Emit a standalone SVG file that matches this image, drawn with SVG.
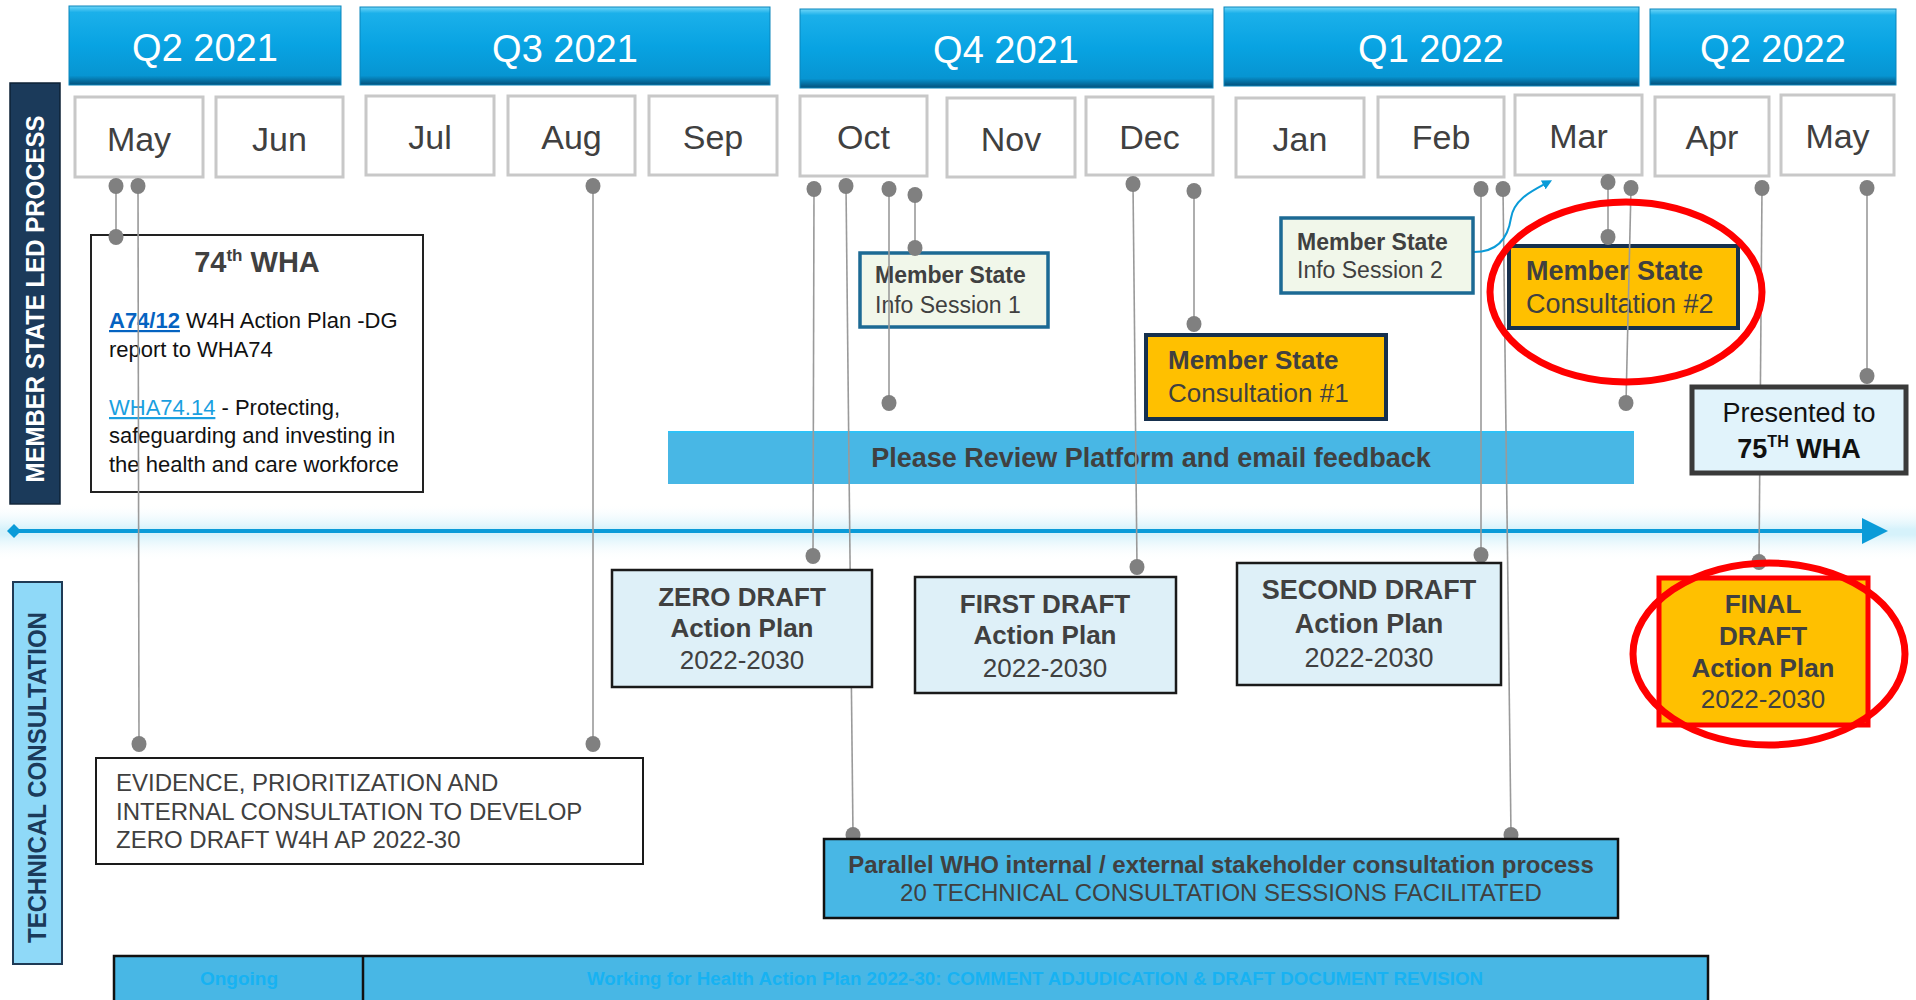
<svg xmlns="http://www.w3.org/2000/svg" width="1916" height="1000" viewBox="0 0 1916 1000">
<defs>
<linearGradient id="qg" x1="0" y1="0" x2="0" y2="1">
<stop offset="0" stop-color="#6fd6f8"/>
<stop offset="0.08" stop-color="#1bb0ea"/>
<stop offset="0.5" stop-color="#08a3e2"/>
<stop offset="0.88" stop-color="#0795d2"/>
<stop offset="1" stop-color="#04507a"/>
</linearGradient>
<linearGradient id="glow" x1="0" y1="0" x2="0" y2="1">
<stop offset="0" stop-color="#ffffff" stop-opacity="0"/>
<stop offset="0.45" stop-color="#d6f2fb"/>
<stop offset="0.55" stop-color="#d6f2fb"/>
<stop offset="1" stop-color="#ffffff" stop-opacity="0"/>
</linearGradient>
<marker id="arr" viewBox="0 0 10 10" refX="2" refY="5" markerWidth="5" markerHeight="5" orient="auto">
<path d="M0,0 L10,5 L0,10 z" fill="#0a9bd8"/>
</marker>
<style>
text{font-family:"Liberation Sans",Arial,sans-serif;}
.q{fill:url(#qg);stroke:#0a85bb;stroke-width:1;}
.qt{fill:#ffffff;font-size:38px;text-anchor:middle;}
.mb{fill:#ffffff;stroke:#c8c8c8;stroke-width:3;}
.mt{fill:#404040;font-size:34px;text-anchor:middle;}
.ln{stroke:#9a9a9a;stroke-width:1.6;fill:none;}
.dot{fill:#808080;}
.dk{fill:#404040;}
.b{font-weight:bold;}
.c{text-anchor:middle;}
.draft{fill:#def0f8;stroke:#1a1a1a;stroke-width:2.5;}
.info{fill:#f1f7ea;stroke:#1c6a94;stroke-width:3.5;}
.cons{fill:#ffc000;stroke:#16304e;stroke-width:4;}
.blue{fill:#48b7e5;stroke:#111111;stroke-width:2.5;}
.red{fill:none;stroke:#ff0000;stroke-width:7;}
</style>
</defs>
<rect width="1916" height="1000" fill="#ffffff"/>

<!-- quarters -->
<g id="quarters">
<g id="q2-2021"><rect class="q" x="69" y="6" width="272" height="79"/><text class="qt" x="205" y="61" font-size="36">Q2 2021</text></g>
<g id="q3-2021"><rect class="q" x="360" y="7" width="410" height="78"/><text class="qt" x="565" y="62">Q3 2021</text></g>
<g id="q4-2021"><rect class="q" x="800" y="9" width="413" height="79"/><text class="qt" x="1006" y="63">Q4 2021</text></g>
<g id="q1-2022"><rect class="q" x="1224" y="7" width="415" height="79"/><text class="qt" x="1431" y="62">Q1 2022</text></g>
<g id="q2-2022"><rect class="q" x="1650" y="9" width="246" height="76"/><text class="qt" x="1773" y="62">Q2 2022</text></g>
</g>

<!-- months -->
<g id="months">
<g id="m-may21"><rect class="mb" x="75" y="97" width="128" height="80"/><text class="mt" x="139" y="151">May</text></g>
<g id="m-jun21"><rect class="mb" x="216" y="97" width="127" height="80"/><text class="mt" x="279.5" y="151">Jun</text></g>
<g id="m-jul21"><rect class="mb" x="366" y="96" width="128" height="79"/><text class="mt" x="430" y="149">Jul</text></g>
<g id="m-aug21"><rect class="mb" x="508" y="96" width="127" height="79"/><text class="mt" x="571.5" y="149">Aug</text></g>
<g id="m-sep21"><rect class="mb" x="649" y="96" width="128" height="79"/><text class="mt" x="713" y="149">Sep</text></g>
<g id="m-oct21"><rect class="mb" x="800" y="96" width="127" height="80"/><text class="mt" x="863.5" y="149">Oct</text></g>
<g id="m-nov21"><rect class="mb" x="947" y="98" width="128" height="79"/><text class="mt" x="1011" y="151">Nov</text></g>
<g id="m-dec21"><rect class="mb" x="1086" y="97" width="127" height="78"/><text class="mt" x="1149.5" y="149">Dec</text></g>
<g id="m-jan22"><rect class="mb" x="1236" y="98" width="128" height="79"/><text class="mt" x="1300" y="151">Jan</text></g>
<g id="m-feb22"><rect class="mb" x="1378" y="97" width="126" height="80"/><text class="mt" x="1441" y="149">Feb</text></g>
<g id="m-mar22"><rect class="mb" x="1515" y="95" width="127" height="80"/><text class="mt" x="1578.5" y="148">Mar</text></g>
<g id="m-apr22"><rect class="mb" x="1655" y="97" width="114" height="79"/><text class="mt" x="1712" y="149">Apr</text></g>
<g id="m-may22"><rect class="mb" x="1781" y="95" width="113" height="80"/><text class="mt" x="1837.5" y="148">May</text></g>
</g>

<!-- lane labels -->
<g id="lane-member">
<rect x="10" y="83" width="50" height="421" fill="#1b3a5a" stroke="#0e2236" stroke-width="1.5"/>
<text x="35" y="308" transform="rotate(-90 35 299)" class="b c" fill="#ffffff" font-size="26" textLength="367" lengthAdjust="spacingAndGlyphs">MEMBER STATE LED PROCESS</text>
</g>
<g id="lane-technical">
<rect x="13" y="582" width="49" height="382" fill="#8fd9f8" stroke="#1f3a55" stroke-width="2"/>
<text x="37" y="786" transform="rotate(-90 37 777.5)" class="b c" fill="#1b3a5a" font-size="26" textLength="331" lengthAdjust="spacingAndGlyphs">TECHNICAL CONSULTATION</text>
</g>

<!-- timeline -->
<g id="timeline">
<rect x="0" y="503" width="1916" height="58" fill="url(#glow)"/>
<line x1="14" y1="531" x2="1864" y2="531" stroke="#0a9bd8" stroke-width="4"/>
<polygon points="1862,518 1888,531 1862,544" fill="#0a9bd8"/>
<polygon points="14,524 21,531 14,538 7,531" fill="#0a9bd8"/>
</g>

<!-- boxes below connectors -->
<g id="review-bar">
<rect x="668" y="431" width="966" height="53" fill="#48b7e5"/>
<line x1="668" y1="432" x2="1634" y2="432" stroke="#2ec2f7" stroke-width="2"/>
<text x="1151" y="467" class="b c dk" font-size="27">Please Review Platform and email feedback</text>
</g>

<g id="wha74">
<rect x="91" y="235" width="332" height="257" fill="#ffffff" stroke="#222222" stroke-width="2"/>
<text x="257" y="272" class="b c dk" font-size="29">74<tspan font-size="17" dy="-11">th</tspan><tspan dy="11"> WHA</tspan></text>
<text x="109" y="328" font-size="22" fill="#111111"><tspan font-weight="bold" fill="#0563c1" text-decoration="underline">A74/12</tspan> W4H Action Plan -DG</text>
<text x="109" y="357" font-size="22" fill="#111111">report to WHA74</text>
<text x="109" y="415" font-size="22" fill="#111111"><tspan fill="#1a9fe0" text-decoration="underline">WHA74.14</tspan> - Protecting,</text>
<text x="109" y="443" font-size="22" fill="#111111">safeguarding and investing in</text>
<text x="109" y="472" font-size="22" fill="#111111">the health and care workforce</text>
</g>

<g id="info-session-1">
<rect class="info" x="860" y="253" width="188" height="74"/>
<text x="875" y="283" class="b dk" font-size="23">Member State</text>
<text x="875" y="313" class="dk" font-size="23">Info Session 1</text>
</g>

<g id="consultation-2">
<rect class="cons" x="1509" y="246" width="229" height="82"/>
<text x="1526" y="280" class="b dk" font-size="27">Member State</text>
<text x="1526" y="313" class="dk" font-size="27">Consultation #2</text>
</g>

<!-- connectors -->
<g id="connectors">
<line class="ln" x1="116" y1="186" x2="116" y2="237"/>
<line class="ln" x1="138" y1="186" x2="139" y2="744"/>
<line class="ln" x1="593" y1="186" x2="593" y2="744"/>
<line class="ln" x1="814" y1="189" x2="813" y2="556"/>
<line class="ln" x1="846" y1="186" x2="853" y2="835"/>
<line class="ln" x1="889" y1="189" x2="889" y2="403"/>
<line class="ln" x1="915" y1="195" x2="915" y2="248"/>
<line class="ln" x1="1133" y1="184" x2="1137" y2="567"/>
<line class="ln" x1="1194" y1="191" x2="1194" y2="324"/>
<line class="ln" x1="1481" y1="189" x2="1481" y2="555"/>
<line class="ln" x1="1503" y1="189" x2="1511" y2="835"/>
<line class="ln" x1="1608" y1="182" x2="1608" y2="237"/>
<line class="ln" x1="1631" y1="188" x2="1626" y2="403"/>
<line class="ln" x1="1762" y1="188" x2="1759" y2="562"/>
<line class="ln" x1="1867" y1="188" x2="1867" y2="376"/>
<path d="M1474,252 C1498,252 1508,238 1511,218 C1514,200 1530,192 1545,184" fill="none" stroke="#0a9bd8" stroke-width="2" marker-end="url(#arr)"/>
<g class="dot">
<ellipse cx="116" cy="186" rx="7.5" ry="8"/><ellipse cx="116" cy="237" rx="7.5" ry="8"/>
<ellipse cx="138" cy="186" rx="7.5" ry="8"/><ellipse cx="139" cy="744" rx="7.5" ry="8"/>
<ellipse cx="593" cy="186" rx="7.5" ry="8"/><ellipse cx="593" cy="744" rx="7.5" ry="8"/>
<ellipse cx="814" cy="189" rx="7.5" ry="8"/><ellipse cx="813" cy="556" rx="7.5" ry="8"/>
<ellipse cx="846" cy="186" rx="7.5" ry="8"/><ellipse cx="853" cy="835" rx="7.5" ry="8"/>
<ellipse cx="889" cy="189" rx="7.5" ry="8"/><ellipse cx="889" cy="403" rx="7.5" ry="8"/>
<ellipse cx="915" cy="195" rx="7.5" ry="8"/><ellipse cx="915" cy="248" rx="7.5" ry="8"/>
<ellipse cx="1133" cy="184" rx="7.5" ry="8"/><ellipse cx="1137" cy="567" rx="7.5" ry="8"/>
<ellipse cx="1194" cy="191" rx="7.5" ry="8"/><ellipse cx="1194" cy="324" rx="7.5" ry="8"/>
<ellipse cx="1481" cy="189" rx="7.5" ry="8"/><ellipse cx="1481" cy="555" rx="7.5" ry="8"/>
<ellipse cx="1503" cy="189" rx="7.5" ry="8"/><ellipse cx="1511" cy="835" rx="7.5" ry="8"/>
<ellipse cx="1608" cy="182" rx="7.5" ry="8"/><ellipse cx="1608" cy="237" rx="7.5" ry="8"/>
<ellipse cx="1631" cy="188" rx="7.5" ry="8"/><ellipse cx="1626" cy="403" rx="7.5" ry="8"/>
<ellipse cx="1762" cy="188" rx="7.5" ry="8"/><ellipse cx="1759" cy="562" rx="7.5" ry="8"/>
<ellipse cx="1867" cy="188" rx="7.5" ry="8"/><ellipse cx="1867" cy="376" rx="7.5" ry="8"/>
</g>
</g>

<!-- boxes above connectors -->
<g id="info-session-2">
<rect class="info" x="1281" y="218" width="192" height="75"/>
<text x="1297" y="250" class="b dk" font-size="23">Member State</text>
<text x="1297" y="278" class="dk" font-size="23">Info Session 2</text>
</g>

<g id="consultation-1">
<rect class="cons" x="1146" y="335" width="240" height="84"/>
<text x="1168" y="369" class="b dk" font-size="26">Member State</text>
<text x="1168" y="402" class="dk" font-size="26">Consultation #1</text>
</g>

<g id="presented-75">
<rect x="1692" y="387" width="214" height="86" fill="#e1f3fb" stroke="#3a3a3a" stroke-width="5"/>
<text x="1799" y="422" class="c" fill="#111111" font-size="27">Presented to</text>
<text x="1799" y="458" class="c b" fill="#111111" font-size="27">75<tspan font-size="16" dy="-11">TH</tspan><tspan dy="11"> WHA</tspan></text>
</g>

<g id="zero-draft">
<rect class="draft" x="612" y="570" width="260" height="117"/>
<text x="742" y="606" class="b c dk" font-size="26">ZERO DRAFT</text>
<text x="742" y="637" class="b c dk" font-size="26">Action Plan</text>
<text x="742" y="669" class="c dk" font-size="26">2022-2030</text>
</g>

<g id="first-draft">
<rect class="draft" x="915" y="577" width="261" height="116"/>
<text x="1045" y="613" class="b c dk" font-size="26">FIRST DRAFT</text>
<text x="1045" y="644" class="b c dk" font-size="26">Action Plan</text>
<text x="1045" y="677" class="c dk" font-size="26">2022-2030</text>
</g>

<g id="second-draft">
<rect class="draft" x="1237" y="563" width="264" height="122"/>
<text x="1369" y="599" class="b c dk" font-size="27">SECOND DRAFT</text>
<text x="1369" y="633" class="b c dk" font-size="27">Action Plan</text>
<text x="1369" y="667" class="c dk" font-size="27">2022-2030</text>
</g>

<g id="final-draft">
<rect x="1659" y="578" width="209" height="147" fill="#ffc000" stroke="#ff0000" stroke-width="5"/>
<text x="1763" y="613" class="b c dk" font-size="26">FINAL</text>
<text x="1763" y="645" class="b c dk" font-size="26">DRAFT</text>
<text x="1763" y="677" class="b c dk" font-size="26">Action Plan</text>
<text x="1763" y="708" class="c dk" font-size="26">2022-2030</text>
</g>

<g id="highlights">
<ellipse class="red" cx="1626" cy="292" rx="136" ry="90"/>
<ellipse class="red" cx="1769" cy="654" rx="136" ry="91"/>
</g>

<g id="evidence">
<rect x="96" y="758" width="547" height="106" fill="#ffffff" stroke="#1a1a1a" stroke-width="2"/>
<text x="116" y="791" class="dk" font-size="24">EVIDENCE, PRIORITIZATION AND</text>
<text x="116" y="820" class="dk" font-size="24">INTERNAL CONSULTATION TO DEVELOP</text>
<text x="116" y="848" class="dk" font-size="24">ZERO DRAFT W4H AP 2022-30</text>
</g>

<g id="parallel">
<rect class="blue" x="824" y="839" width="794" height="79"/>
<text x="1221" y="873" class="b c dk" font-size="24">Parallel WHO internal / external stakeholder consultation process</text>
<text x="1221" y="901" class="c dk" font-size="24">20 TECHNICAL CONSULTATION SESSIONS FACILITATED</text>
</g>

<g id="bottom-bar">
<rect class="blue" x="114" y="956" width="1594" height="60"/>
<line x1="363" y1="956" x2="363" y2="1000" stroke="#111111" stroke-width="2.5"/>
<text x="239" y="985" class="b c" fill="#17b2f2" font-size="19">Ongoing</text>
<text x="1035" y="985" class="b c" fill="#17b2f2" font-size="18" textLength="896" lengthAdjust="spacingAndGlyphs">Working for Health Action Plan 2022-30: COMMENT ADJUDICATION &amp; DRAFT DOCUMENT REVISION</text>
</g>
</svg>
